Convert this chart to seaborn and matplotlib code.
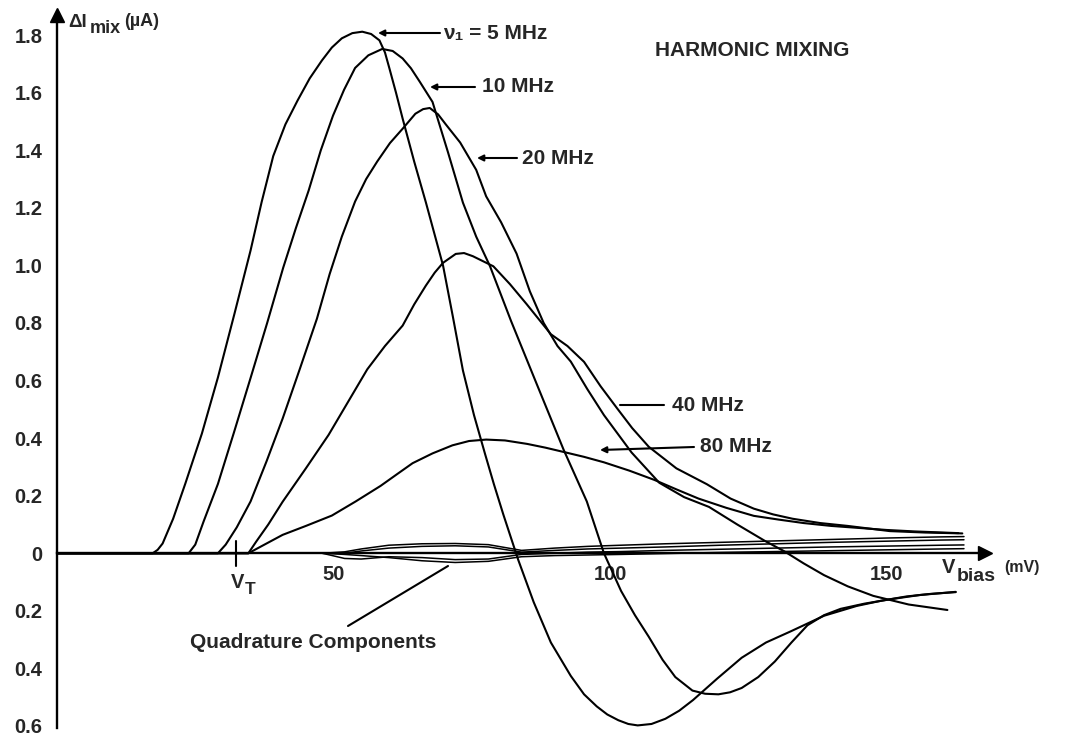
import numpy as np
import pandas as pd
import matplotlib
matplotlib.use("Agg")
import matplotlib.pyplot as plt
import seaborn as sns
from matplotlib.ticker import FuncFormatter

# ---------------- data (V_bias in mV, Delta I_mix in uA) ----------------
V5 = [0, 15, 17.3, 18.2, 19.1, 21.0, 23.2, 26.2, 29.1, 32.1, 35.0, 37.0, 39.1, 41.3, 43.5, 45.7,
      47.9, 49.7, 51.5, 53.4, 55.2, 56.8, 58.3, 59.3, 60.1, 61.3, 62.5, 64.6, 66.7, 69.8, 71.6,
      73.4, 75.4, 77.4, 79.0, 80.7, 83.4, 86.2, 89.3, 92.9, 95.3, 97.6, 99.5, 101.5, 103.3, 105.0,
      107.5, 110.0, 112.5, 115.0, 119.4, 123.8, 128.2, 132.7, 138.7, 144.6, 149.0, 153.6, 158.0,
      162.5]
I5 = [0, 0, 0, 0.012, 0.034, 0.120, 0.242, 0.416, 0.611, 0.833, 1.052, 1.220, 1.380, 1.490, 1.573,
      1.650, 1.712, 1.757, 1.789, 1.807, 1.812, 1.804, 1.782, 1.740, 1.685, 1.600, 1.510, 1.360,
      1.219, 1.000, 0.820, 0.635, 0.480, 0.345, 0.240, 0.135, -0.023, -0.170, -0.310, -0.426,
      -0.490, -0.532, -0.560, -0.580, -0.593, -0.598, -0.593, -0.575, -0.547, -0.510, -0.435,
      -0.363, -0.310, -0.271, -0.217, -0.183, -0.165, -0.150, -0.141, -0.135]

V10 = [0, 23.8, 25.0, 26.5, 29.1, 32.0, 35.0, 38.0, 40.9, 43.2, 45.5, 47.7, 49.9, 51.9, 53.9,
       56.3, 58.8, 60.7, 62.5, 64.0, 65.6, 67.9, 70.7, 73.4, 75.8, 78.3, 82.1, 86.7, 91.6, 95.8,
       98.9, 102.0, 104.5, 107.0, 109.5, 111.8, 114.9, 117.2, 119.6, 121.7, 123.8, 126.8, 129.8,
       132.8, 135.7, 138.7, 141.7, 146.0, 150.6, 156.0, 162.5]
I10 = [0, 0, 0.030, 0.110, 0.241, 0.420, 0.609, 0.800, 0.992, 1.130, 1.260, 1.400, 1.520, 1.610,
       1.686, 1.730, 1.752, 1.745, 1.719, 1.685, 1.638, 1.568, 1.393, 1.218, 1.100, 0.997, 0.807,
       0.590, 0.360, 0.180, 0.0, -0.131, -0.215, -0.290, -0.370, -0.430, -0.477, -0.488, -0.490,
       -0.483, -0.468, -0.430, -0.376, -0.310, -0.250, -0.215, -0.193, -0.175, -0.160, -0.145,
       -0.134]

V20 = [0, 29.1, 30.5, 32.5, 35.0, 37.9, 40.8, 43.9, 47.0, 49.3, 51.5, 53.9, 55.9, 57.9, 60.2,
       62.5, 64.8, 66.2, 67.4, 68.9, 70.3, 72.9, 75.8, 77.6, 80.3, 83.1, 85.5, 88.0, 90.5, 92.9,
       95.9, 98.9, 103.9, 108.9, 113.4, 117.9, 123.0, 128.0, 131.5, 135.0, 138.7, 143.0, 147.6,
       154.0, 161.0]
I20 = [0, 0, 0.030, 0.090, 0.180, 0.320, 0.468, 0.640, 0.815, 0.970, 1.100, 1.222, 1.300, 1.361,
       1.425, 1.475, 1.527, 1.543, 1.547, 1.525, 1.490, 1.427, 1.332, 1.240, 1.150, 1.041, 0.910,
       0.800, 0.720, 0.666, 0.570, 0.480, 0.350, 0.245, 0.195, 0.161, 0.100, 0.043, 0.007, -0.035,
       -0.076, -0.115, -0.148, -0.178, -0.197]

V40 = [0, 34.6, 36.0, 38.2, 40.8, 45.0, 49.1, 52.6, 56.1, 59.3, 62.5, 64.6, 66.7, 68.3, 69.8,
       72.1, 73.6, 75.2, 78.9, 81.9, 84.9, 89.3, 92.3, 95.3, 98.3, 101.3, 104.0, 107.0, 112.0,
       117.5, 121.8, 126.0, 129.5, 133.0, 138.0, 143.0, 150.6, 157.0, 163.7]
I40 = [0, 0, 0.040, 0.100, 0.179, 0.295, 0.411, 0.525, 0.639, 0.720, 0.791, 0.865, 0.930, 0.975,
       1.009, 1.040, 1.043, 1.032, 0.997, 0.935, 0.866, 0.761, 0.720, 0.665, 0.580, 0.503, 0.435,
       0.370, 0.295, 0.240, 0.190, 0.155, 0.135, 0.120, 0.105, 0.095, 0.077, 0.072, 0.069]

V80 = [0, 34.6, 37.5, 40.8, 45.0, 49.7, 54.0, 58.5, 61.5, 64.3, 67.9, 71.5, 74.5, 77.6, 81.0,
       85.0, 88.3, 91.6, 95.3, 98.9, 103.5, 108.0, 112.0, 116.0, 121.0, 126.0, 130.5, 135.0,
       140.0, 145.0, 150.0, 155.0, 163.0]
I80 = [0, 0, 0.030, 0.064, 0.095, 0.131, 0.180, 0.234, 0.275, 0.313, 0.347, 0.375, 0.390, 0.395,
       0.392, 0.380, 0.367, 0.352, 0.335, 0.316, 0.287, 0.255, 0.222, 0.190, 0.158, 0.130, 0.117,
       0.105, 0.095, 0.088, 0.081, 0.076, 0.070]

VQ = [48, 52, 55, 60, 66, 72, 78, 84, 90, 96, 102, 110, 120, 130, 140, 150, 160, 164]
Q1 = [0, 0.005, 0.015, 0.028, 0.033, 0.034, 0.030, 0.010, 0.018, 0.024, 0.028, 0.033, 0.038,
      0.043, 0.048, 0.053, 0.057, 0.058]
Q2 = [0, 0.0, 0.008, 0.018, 0.024, 0.026, 0.022, 0.004, 0.010, 0.015, 0.018, 0.022, 0.028,
      0.033, 0.038, 0.042, 0.046, 0.047]
Q3 = [0, -0.018, -0.020, -0.012, -0.015, -0.022, -0.020, -0.004, 0.0, 0.004, 0.006, 0.010, 0.014,
      0.018, 0.022, 0.025, 0.028, 0.029]
Q4 = [0, -0.004, -0.008, -0.015, -0.026, -0.032, -0.028, -0.012, -0.008, -0.006, -0.004, -0.001,
      0.003, 0.006, 0.009, 0.012, 0.015, 0.016]

VT = 32.4
x_major = [50, 100, 150]
x_minor = list(range(10, 170, 10))
y_ticks = [-0.6, -0.4, -0.2, 0, 0.2, 0.4, 0.6, 0.8, 1.0, 1.2, 1.4, 1.6, 1.8]

main_curves = {"5 MHz": (V5, I5), "10 MHz": (V10, I10), "20 MHz": (V20, I20),
               "40 MHz": (V40, I40), "80 MHz": (V80, I80)}
quad_curves = {"q1": Q1, "q2": Q2, "q3": Q3, "q4": Q4}

df_main = pd.concat([pd.DataFrame({"V": v, "I": i, "curve": k}) for k, (v, i) in main_curves.items()])
df_quad = pd.concat([pd.DataFrame({"V": VQ, "I": q, "curve": k}) for k, q in quad_curves.items()])

# ---------------- style ----------------
sns.set_style("white")
plt.rcParams.update({
    "font.family": ["Liberation Sans", "DejaVu Sans"],
    "font.weight": "bold",
})

W, H = 1066, 738
fig = plt.figure(figsize=(W / 100, H / 100), dpi=100)
ax = fig.add_axes([57 / W, 10 / H, 928 / W, 713 / H])

sns.lineplot(data=df_main, x="V", y="I", units="curve", estimator=None, sort=False,
             color="black", linewidth=1.5, legend=False, ax=ax)
sns.lineplot(data=df_quad, x="V", y="I", units="curve", estimator=None, sort=False,
             color="black", linewidth=1.1, legend=False, ax=ax)

ax.set_xlim(0, 167.8)
ax.set_ylim(-0.607, 1.87)
ax.set_xlabel("")
ax.set_ylabel("")

for s in ["top", "right"]:
    ax.spines[s].set_visible(False)
ax.spines["left"].set_position(("data", 0))
ax.spines["bottom"].set_position(("data", 0))
for s in ["left", "bottom"]:
    ax.spines[s].set_linewidth(1.7)
    ax.spines[s].set_color("black")

ax.set_xticks(x_major)
ax.set_xticks(x_minor, minor=True)
ax.set_yticks(y_ticks)
ax.xaxis.set_major_formatter(FuncFormatter(lambda v, _: f"{int(round(v))}"))
ax.yaxis.set_major_formatter(FuncFormatter(lambda v, _: "0" if abs(v) < 1e-9 else f"{abs(v):.1f}"))
ax.tick_params(axis="both", which="both", direction="inout", length=11, width=1.5, color="black")
ax.tick_params(axis="x", which="major", labelsize=14.5, pad=3)
ax.tick_params(axis="y", which="major", labelsize=14.5, pad=5)
for lab in ax.get_xticklabels() + ax.get_yticklabels():
    lab.set_fontweight("bold")

# V_T tick
ax.plot([VT, VT], [-0.045, 0.042], color="black", lw=1.5, clip_on=False)

# axis arrow heads
ax.plot([167.8], [0], marker=">", ms=10, color="black", clip_on=False)
ax.plot([0], [1.87], marker="^", ms=10, color="black", clip_on=False)

# ---------------- annotations (figure-pixel layout) ----------------
def fx(px):
    return px / W

def fy(py):
    return 1 - py / H

def fp(px, py):
    return (px, H - py)

fig.text(fx(68), fy(27), "ΔI", fontsize=13.5, fontweight="bold", va="baseline", ha="left")
fig.text(fx(90), fy(33), "mix", fontsize=13, fontweight="bold", va="baseline", ha="left")
fig.text(fx(124), fy(26), "(µA)", fontsize=13, fontweight="bold", va="baseline", ha="left")
fig.text(fx(655), fy(50), "HARMONIC MIXING", fontsize=15, fontweight="bold", va="center", ha="left")

labels = [
    ("ν₁ = 5 MHz", (378, 33), (440, 33), 443, True),
    ("10 MHz", (430, 87), (475, 87), 482, True),
    ("20 MHz", (477, 158), (517, 158), 522, True),
    ("40 MHz", (620, 405), (664, 405), 672, False),
    ("80 MHz", (600, 450), (694, 447), 700, True),
]
for txt, tip, start, tx, arrow in labels:
    ax.annotate("", xy=fp(*tip), xycoords="figure pixels", xytext=fp(*start),
                textcoords="figure pixels",
                arrowprops=dict(arrowstyle="-|>" if arrow else "-", lw=1.5, color="black",
                                mutation_scale=9, shrinkA=0, shrinkB=0))
    fig.text(fx(tx), fy(start[1]), txt, fontsize=15, fontweight="bold", va="center", ha="left")

fig.text(fx(190), fy(642), "Quadrature Components", fontsize=15, fontweight="bold",
         va="center", ha="left")
ax.annotate("", xy=fp(448, 566), xycoords="figure pixels", xytext=fp(348, 626),
            textcoords="figure pixels",
            arrowprops=dict(arrowstyle="-", lw=1.5, color="black", shrinkA=0, shrinkB=0))

fig.text(fx(231), fy(588), "V", fontsize=14.5, fontweight="bold", va="baseline", ha="left")
fig.text(fx(245), fy(594), "T", fontsize=12.5, fontweight="bold", va="baseline", ha="left")
fig.text(fx(942), fy(573), "V", fontsize=14.5, fontweight="bold", va="baseline", ha="left")
fig.text(fx(957), fy(581), "bias", fontsize=14, fontweight="bold", va="baseline", ha="left")
fig.text(fx(1004), fy(572), "(mV)", fontsize=11.5, fontweight="bold", va="baseline", ha="left")

fig.savefig("out.png", dpi=100)
